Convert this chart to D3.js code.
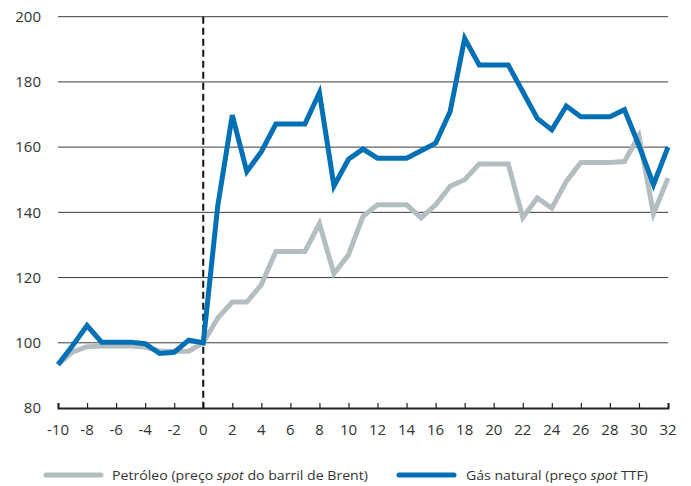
<!DOCTYPE html>
<html><head><meta charset="utf-8">
<script src="https://cdn.jsdelivr.net/npm/d3@7"></script>
<style>body{margin:0;background:#fff;} text{font-family:"Open Sans","Noto Sans",sans-serif;fill:#333;}</style>
</head><body><svg id="c" width="691" height="486"></svg>
<script>
const periods = d3.range(-10, 33);
const brent = [93.3, 97.2, 98.8, 99.0, 99.0, 99.0, 98.7, 97.5, 97.4, 97.4, 100,
  107.6, 112.5, 112.5, 117.8, 128.0, 128.0, 128.0, 136.5, 121.2, 127.0,
  138.8, 142.3, 142.3, 142.3, 138.3, 142.3, 148.0, 150.0, 154.8, 154.8,
  154.8, 138.4, 144.4, 141.3, 149.5, 155.3, 155.3, 155.3, 155.6, 163.5, 139.6, 150.5];
const gas = [93.3, 99.1, 105.3, 100.2, 100.2, 100.2, 99.7, 96.7, 97.1, 100.8, 100,
  142.0, 169.8, 152.5, 158.6, 167.1, 167.1, 167.1, 176.7, 148.1, 156.3,
  159.4, 156.6, 156.6, 156.6, 158.9, 161.2, 170.9, 193.3, 185.2, 185.2,
  185.2, 177.0, 168.8, 165.3, 172.6, 169.3, 169.3, 169.3, 171.5, 160.5, 148.5, 160.0];
const yTicks = [80, 100, 120, 140, 160, 180, 200];
const xTicks = d3.range(-10, 33, 2);
const seriesNames = ["Petróleo (preço ", "spot", " do barril de Brent)"];
const seriesNames2 = ["Gás natural (preço ", "spot", " TTF)"];
const colors = ["#b4bec1", "#0070b6"];

const svg = d3.select("#c");
const x = d3.scaleLinear().domain([-10, 32]).range([58, 668]);
const y = d3.scaleLinear().domain([80, 200]).range([408, 16.7]);

// grid
svg.append("g").selectAll("line").data(yTicks.filter(d => d > 80)).join("line")
  .attr("x1", 58).attr("x2", 668).attr("y1", d => y(d)).attr("y2", d => y(d))
  .attr("stroke", "#3a3a3a").attr("stroke-width", 1);
// y labels
svg.append("g").selectAll("text").data(yTicks).join("text")
  .attr("x", 41).attr("y", d => y(d)).attr("dy", "0.35em").attr("text-anchor", "end")
  .attr("font-size", 15).text(d => d);

// x axis
const xa = svg.append("g").attr("transform", `translate(0,${y(80)})`)
  .call(d3.axisTop(x).tickValues(xTicks).tickSize(5).tickFormat(""));
xa.select(".domain").attr("stroke", "#222").attr("stroke-width", 2);
xa.selectAll(".tick line").attr("stroke", "#222").attr("stroke-width", 1.2);
svg.append("g").selectAll("text").data(xTicks).join("text")
  .attr("x", d => x(d)).attr("y", 430).attr("dy", "0.35em").attr("text-anchor", "middle")
  .attr("font-size", 15).text(d => d);

// dashed line at 0
svg.append("line").attr("x1", x(0)).attr("x2", x(0)).attr("y1", y(200)).attr("y2", y(80))
  .attr("stroke", "#111").attr("stroke-width", 2).attr("stroke-dasharray", "7,4");

const line = d3.line().x((d, i) => x(periods[i])).y(d => y(d));
[brent, gas].forEach((s, k) => {
  svg.append("path").datum(s).attr("d", line).attr("fill", "none")
    .attr("stroke", colors[k]).attr("stroke-width", 5).attr("stroke-linejoin", "miter");
});

// legend
const leg = [{x1: 46, x2: 101, tx: 112, parts: seriesNames, len: 256, c: colors[0]},
             {x1: 399, x2: 454, tx: 466, parts: seriesNames2, len: 182, c: colors[1]}];
leg.forEach(l => {
  svg.append("line").attr("x1", l.x1).attr("x2", l.x2).attr("y1", 475).attr("y2", 475)
    .attr("stroke", l.c).attr("stroke-width", 5).attr("stroke-linecap", "round");
  const t = svg.append("text").attr("x", l.tx).attr("y", 475).attr("dy", "0.35em")
    .attr("font-size", 13.5).attr("textLength", l.len).attr("lengthAdjust", "spacingAndGlyphs");
  l.parts.forEach((p, i) => t.append("tspan").attr("font-style", i === 1 ? "italic" : null).text(p));
});
</script></body></html>
